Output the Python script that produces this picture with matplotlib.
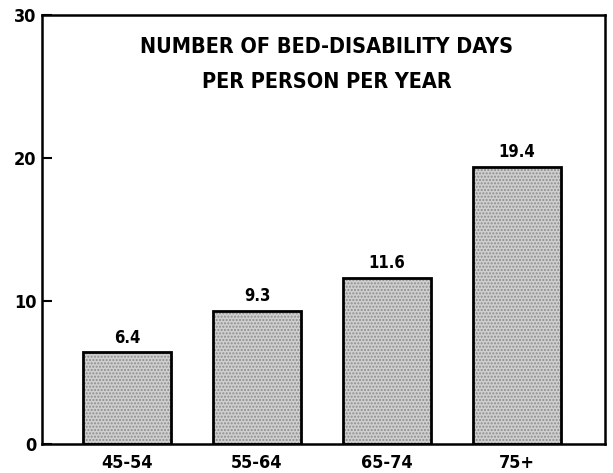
import matplotlib.pyplot as plt

# Data
age_groups = ['45-54', '55-64', '65-74', '75+']
bed_days = [6.4, 9.3, 11.6, 19.4]
value_labels = ['6.4', '9.3', '11.6', '19.4']
y_ticks = [0, 10, 20, 30]

fig = plt.figure(figsize=(6.13, 4.73), dpi=100)
ax = fig.add_axes([0.0685, 0.0613, 0.9185, 0.907])

x = range(len(age_groups))
bars = ax.bar(x, bed_days, width=0.67, color='#cfcfcf', edgecolor='black',
              linewidth=2, hatch='.....')
for b in bars:
    b._hatch_color = (0.55, 0.55, 0.55, 1.0)

# Values above bars
for i, (v, lab) in enumerate(zip(bed_days, value_labels)):
    ax.text(i, v + 0.4, lab, ha='center', va='bottom', fontsize=12,
            fontweight='bold', fontstretch='condensed')

ax.set_xlim(-0.654, 3.677)
ax.set_ylim(0, 30)
ax.set_yticks(y_ticks)
ax.set_yticklabels([str(t) for t in y_ticks], fontsize=13, fontweight='bold',
                   fontstretch='condensed')
ax.set_xticks(list(x))
ax.set_xticklabels(age_groups, fontsize=13, fontweight='bold', fontstretch='condensed')
ax.tick_params(axis='y', direction='in', length=7, width=1.5, pad=4)
ax.tick_params(axis='x', length=0, pad=7)

for s in ax.spines.values():
    s.set_linewidth(1.8)

ax.text(0.505, 0.948, 'NUMBER OF BED-DISABILITY DAYS\nPER PERSON PER YEAR',
        transform=ax.transAxes, ha='center', va='top', fontsize=15.5,
        fontweight='bold', fontstretch='condensed', linespacing=1.9)

plt.savefig('out.png', dpi=100)
